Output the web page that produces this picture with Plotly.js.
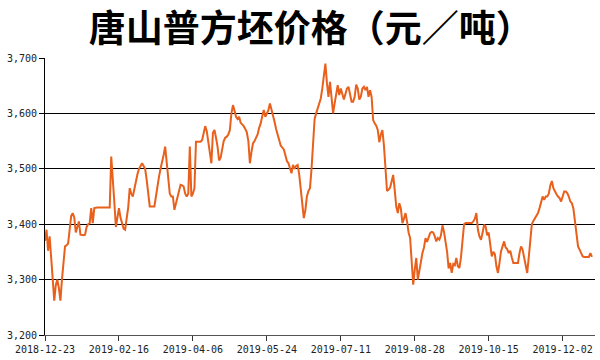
<!DOCTYPE html>
<html>
<head>
<meta charset="utf-8">
<script src="https://cdn.plot.ly/plotly-3.0.1.min.js"></script>
<style>
  html, body { margin: 0; padding: 0; background: #fff; }
  #chart { width: 600px; height: 360px; }
</style>
</head>
<body>
<div id="chart"></div>
<script>
// Trading dates (Spring Festival 2019-02-04..02-10 and 2019-04-05 are absent)
const dates = [
  '2018-12-23','2018-12-24','2018-12-25','2018-12-26','2018-12-27','2018-12-28','2018-12-29','2018-12-30','2018-12-31',
  '2019-01-01','2019-01-02','2019-01-03','2019-01-04','2019-01-05','2019-01-06','2019-01-07','2019-01-08','2019-01-09','2019-01-10',
  '2019-01-11','2019-01-12','2019-01-13','2019-01-14','2019-01-15','2019-01-16','2019-01-17','2019-01-18','2019-01-19','2019-01-20',
  '2019-01-21','2019-01-22','2019-01-23','2019-01-24','2019-01-25','2019-01-26','2019-01-27','2019-01-28','2019-01-29','2019-01-30','2019-01-31',
  '2019-02-01','2019-02-02','2019-02-03',
  '2019-02-11','2019-02-12','2019-02-13','2019-02-14','2019-02-15','2019-02-16','2019-02-17','2019-02-18','2019-02-19','2019-02-20',
  '2019-02-21','2019-02-22','2019-02-23','2019-02-24','2019-02-25','2019-02-26','2019-02-27','2019-02-28',
  '2019-03-01','2019-03-02','2019-03-03','2019-03-04','2019-03-05','2019-03-06','2019-03-07','2019-03-08','2019-03-09','2019-03-10',
  '2019-03-11','2019-03-12','2019-03-13','2019-03-14','2019-03-15','2019-03-16','2019-03-17','2019-03-18','2019-03-19','2019-03-20',
  '2019-03-21','2019-03-22','2019-03-23','2019-03-24','2019-03-25','2019-03-26','2019-03-27','2019-03-28','2019-03-29','2019-03-30','2019-03-31',
  '2019-04-01','2019-04-02','2019-04-03','2019-04-04',
  '2019-04-06','2019-04-07','2019-04-08','2019-04-09','2019-04-10',
  '2019-04-11','2019-04-12','2019-04-13','2019-04-14','2019-04-15','2019-04-16','2019-04-17','2019-04-18','2019-04-19','2019-04-20',
  '2019-04-21','2019-04-22','2019-04-23','2019-04-24','2019-04-25','2019-04-26','2019-04-27','2019-04-28','2019-04-29','2019-04-30',
  '2019-05-01','2019-05-02','2019-05-03','2019-05-04','2019-05-05','2019-05-06','2019-05-07','2019-05-08','2019-05-09','2019-05-10',
  '2019-05-11','2019-05-12','2019-05-13','2019-05-14','2019-05-15','2019-05-16','2019-05-17','2019-05-18','2019-05-19','2019-05-20',
  '2019-05-21','2019-05-22','2019-05-23','2019-05-24','2019-05-25','2019-05-26','2019-05-27','2019-05-28','2019-05-29','2019-05-30','2019-05-31',
  '2019-06-01','2019-06-02','2019-06-03','2019-06-04','2019-06-05','2019-06-06','2019-06-07','2019-06-08','2019-06-09','2019-06-10',
  '2019-06-11','2019-06-12','2019-06-13','2019-06-14','2019-06-15','2019-06-16','2019-06-17','2019-06-18','2019-06-19','2019-06-20',
  '2019-06-21','2019-06-22','2019-06-23','2019-06-24','2019-06-25','2019-06-26','2019-06-27','2019-06-28','2019-06-29','2019-06-30',
  '2019-07-01','2019-07-02','2019-07-03','2019-07-04','2019-07-05','2019-07-06','2019-07-07','2019-07-08','2019-07-09','2019-07-10',
  '2019-07-11','2019-07-12','2019-07-13','2019-07-14','2019-07-15','2019-07-16','2019-07-17','2019-07-18','2019-07-19','2019-07-20',
  '2019-07-21','2019-07-22','2019-07-23','2019-07-24','2019-07-25','2019-07-26','2019-07-27','2019-07-28','2019-07-29','2019-07-30','2019-07-31',
  '2019-08-01','2019-08-02','2019-08-03','2019-08-04','2019-08-05','2019-08-06','2019-08-07','2019-08-08','2019-08-09','2019-08-10',
  '2019-08-11','2019-08-12','2019-08-13','2019-08-14','2019-08-15','2019-08-16','2019-08-17','2019-08-18','2019-08-19','2019-08-20',
  '2019-08-21','2019-08-22','2019-08-23','2019-08-24','2019-08-25','2019-08-26','2019-08-27','2019-08-28','2019-08-29','2019-08-30','2019-08-31',
  '2019-09-01','2019-09-02','2019-09-03','2019-09-04','2019-09-05','2019-09-06','2019-09-07','2019-09-08','2019-09-09','2019-09-10',
  '2019-09-11','2019-09-12','2019-09-13','2019-09-14','2019-09-15','2019-09-16','2019-09-17','2019-09-18','2019-09-19','2019-09-20',
  '2019-09-21','2019-09-22','2019-09-23','2019-09-24','2019-09-25','2019-09-26','2019-09-27','2019-09-28','2019-09-29','2019-09-30',
  '2019-10-01','2019-10-02','2019-10-03','2019-10-04','2019-10-05','2019-10-06','2019-10-07','2019-10-08','2019-10-09','2019-10-10',
  '2019-10-11','2019-10-12','2019-10-13','2019-10-14','2019-10-15','2019-10-16','2019-10-17','2019-10-18','2019-10-19','2019-10-20',
  '2019-10-21','2019-10-22','2019-10-23','2019-10-24','2019-10-25','2019-10-26','2019-10-27','2019-10-28','2019-10-29','2019-10-30','2019-10-31',
  '2019-11-01','2019-11-02','2019-11-03','2019-11-04','2019-11-05','2019-11-06','2019-11-07','2019-11-08','2019-11-09','2019-11-10',
  '2019-11-11','2019-11-12','2019-11-13','2019-11-14','2019-11-15','2019-11-16','2019-11-17','2019-11-18','2019-11-19','2019-11-20',
  '2019-11-21','2019-11-22','2019-11-23','2019-11-24','2019-11-25','2019-11-26','2019-11-27','2019-11-28','2019-11-29','2019-11-30',
  '2019-12-01','2019-12-02','2019-12-03','2019-12-04','2019-12-05','2019-12-06','2019-12-07','2019-12-08','2019-12-09','2019-12-10',
  '2019-12-11','2019-12-12','2019-12-13','2019-12-14','2019-12-15','2019-12-16','2019-12-17','2019-12-18','2019-12-19','2019-12-20','2019-12-21'
];

// Tangshan billet price (yuan / tonne), one value per date above
const prices = [
  3370,3390,3352,3378,3340,3290,3262,3290,3300,
  3285,3262,3300,3330,3360,3362,3365,3390,3415,3420,
  3412,3385,3395,3405,3381,3380,3380,3381,3395,3400,
  3402,3429,3402,3429,3430,3430,3430,3430,3430,3430,3430,
  3430,3430,3430,
  3522,3470,3440,3395,3410,3429,3412,3400,3392,3390,
  3410,3430,3465,3455,3450,3465,3480,3490,
  3500,3505,3510,3505,3500,3480,3460,3432,3432,3432,
  3432,3450,3470,3486,3500,3510,3525,3540,3515,3492,
  3455,3450,3450,3426,3438,3450,3462,3471,3470,3468,3455,
  3450,3455,3540,3450,
  3455,3465,3549,3549,3549,
  3549,3552,3562,3577,3568,3545,3525,3510,3565,3570,
  3556,3540,3515,3520,3535,3550,3556,3558,3562,3570,
  3600,3615,3605,3594,3590,3594,3583,3580,3577,3572,
  3566,3550,3510,3530,3546,3550,3556,3562,3574,3582,
  3595,3606,3594,3600,3606,3618,3608,3596,3585,3572,3560,
  3552,3542,3538,3535,3525,3514,3510,3500,3492,3507,
  3500,3505,3507,3490,3460,3432,3411,3425,3450,3460,
  3465,3500,3540,3590,3600,3610,3621,3627,3645,3670,
  3690,3655,3630,3657,3625,3600,3618,3636,3651,3633,
  3645,3635,3625,3635,3645,3648,3635,3621,3621,3630,
  3652,3645,3625,3630,3645,3648,3642,3648,3630,3642,3630,
  3588,3582,3578,3570,3548,3562,3570,3542,3488,3460,
  3462,3466,3477,3489,3462,3432,3420,3438,3428,3402,
  3410,3420,3405,3385,3375,3336,3291,3318,3339,3300,3318,
  3330,3348,3358,3375,3368,3376,3384,3386,3385,3378,
  3369,3375,3372,3380,3398,3386,3368,3350,3320,3330,
  3312,3328,3326,3339,3324,3321,3340,3370,3400,3402,
  3402,3402,3402,3402,3405,3410,3420,3390,3378,3372,
  3384,3399,3396,3380,3385,3362,3342,3350,3346,3324,
  3312,3330,3351,3360,3369,3358,3355,3348,3352,3340,3330,
  3330,3330,3330,3348,3360,3354,3340,3324,3312,3340,
  3370,3400,3406,3410,3415,3420,3429,3441,3450,3444,
  3450,3450,3455,3470,3478,3465,3458,3454,3450,3447,
  3441,3450,3459,3459,3456,3450,3441,3438,3428,3405,
  3380,3360,3354,3348,3342,3341,3341,3341,3341,3348,3341
];

const xTickDates = ['2018-12-23','2019-02-16','2019-04-06','2019-05-24','2019-07-11','2019-08-28','2019-10-15','2019-12-02'];
const yTicks = [3200, 3300, 3400, 3500, 3600, 3700];
const titleText = '唐山普方坯价格（元／吨）';

const tickFont = { family: '"DejaVu Sans Mono", "Liberation Mono", monospace', size: 10, color: '#222' };

const trace = {
  type: 'scatter',
  mode: 'lines',
  x: dates,
  y: prices,
  line: { color: '#E8601C', width: 2 },
  hoverinfo: 'x+y'
};

const layout = {
  width: 600,
  height: 360,
  margin: { l: 45, r: 5, t: 58, b: 25 },
  paper_bgcolor: '#ffffff',
  plot_bgcolor: '#ffffff',
  showlegend: false,
  title: {
    text: titleText,
    font: { family: '"Noto Sans CJK SC", sans-serif', size: 37, weight: 700, color: '#000' },
    x: 0.518, xref: 'container', xanchor: 'center',
    y: 0.918, yref: 'container', yanchor: 'middle'
  },
  xaxis: {
    type: 'category',
    range: [0, 357],
    tickmode: 'array',
    tickvals: xTickDates,
    ticktext: xTickDates,
    ticks: 'outside',
    ticklen: 5,
    tickcolor: '#333',
    showgrid: false,
    showline: true,
    linecolor: '#555',
    linewidth: 1,
    tickfont: tickFont,
    zeroline: false
  },
  yaxis: {
    range: [3200, 3700],
    tickmode: 'array',
    tickvals: yTicks,
    tickformat: ',d',
    ticks: 'outside',
    ticklen: 5,
    tickcolor: '#000',
    showgrid: true,
    gridcolor: '#000',
    gridwidth: 1,
    showline: true,
    linecolor: '#000',
    linewidth: 1,
    zeroline: false,
    tickfont: tickFont
  }
};

Plotly.newPlot('chart', [trace], layout, { displayModeBar: false, staticPlot: true });
</script>
</body>
</html>
